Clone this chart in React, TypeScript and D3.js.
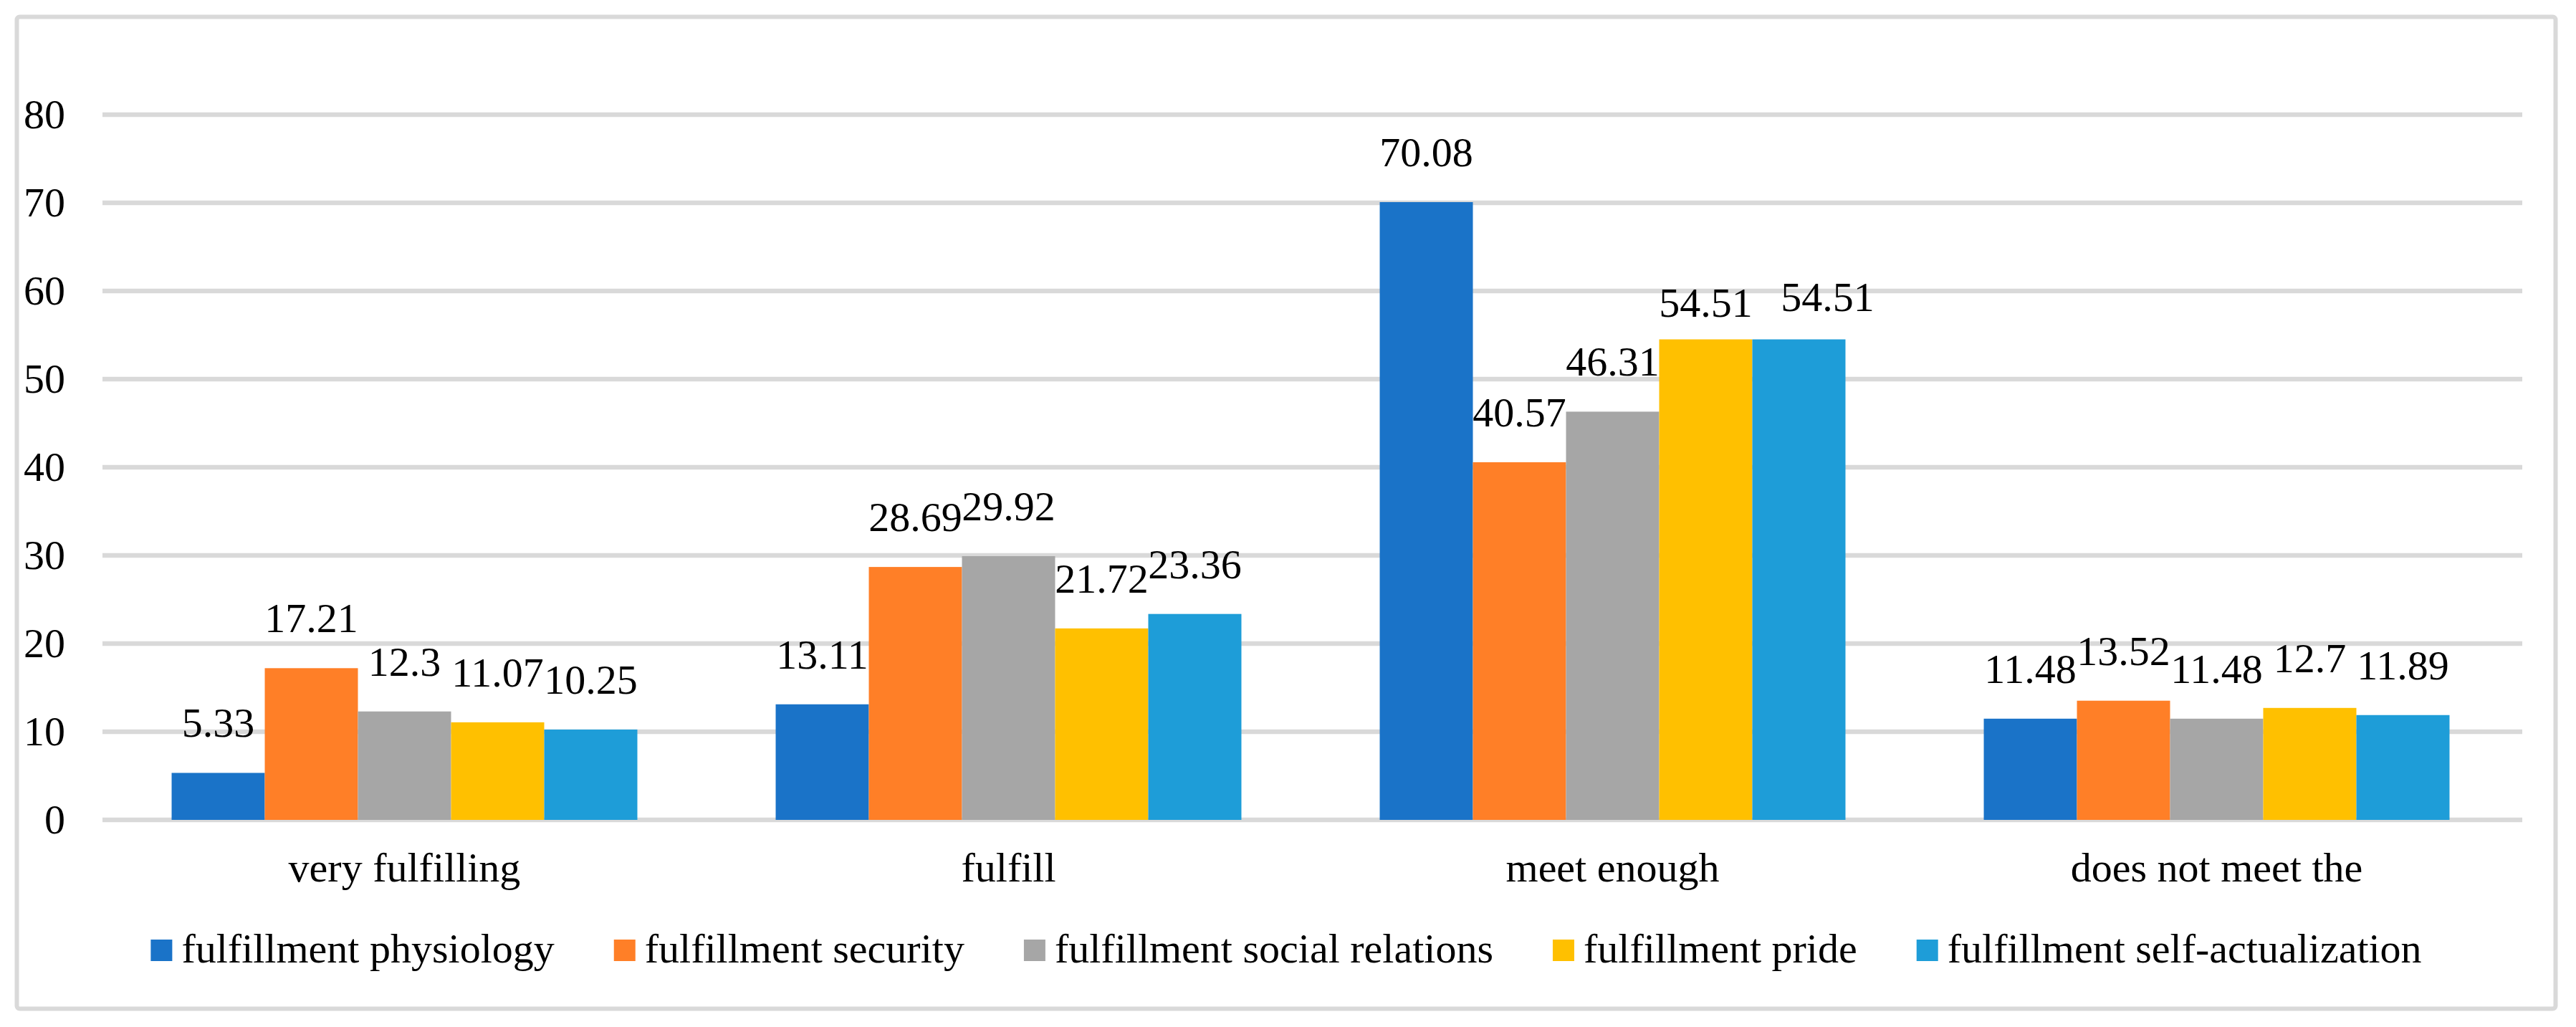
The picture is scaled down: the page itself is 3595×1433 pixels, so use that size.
import React, { useEffect, useRef } from 'react'
import * as d3 from 'd3'

const categories = ['very fulfilling', 'fulfill', 'meet enough', 'does not meet the']

const seriesNames = [
  'fulfillment physiology',
  'fulfillment security',
  'fulfillment social relations',
  'fulfillment pride',
  'fulfillment self-actualization',
]

const seriesColors = ['#1a73c8', '#ff7f27', '#a6a6a6', '#ffc000', '#1e9dd8']

// values per series, one per category
const physiology = [5.33, 13.11, 70.08, 11.48]
const security = [17.21, 28.69, 40.57, 13.52]
const socialRelations = [12.3, 29.92, 46.31, 11.48]
const pride = [11.07, 21.72, 54.51, 12.7]
const selfActualization = [10.25, 23.36, 54.51, 11.89]

const seriesValues = [physiology, security, socialRelations, pride, selfActualization]

const yTicks = [0, 10, 20, 30, 40, 50, 60, 70, 80]

const W = 3595
const H = 1433
const FONT = '"Liberation Serif", "Times New Roman", serif'

// hand-moved data labels in the original (series index - category index)
const labelNudge: Record<string, [number, number]> = {
  '3-2': [0, 18],
  '4-2': [40, 10],
}

export default function App() {
  const svgRef = useRef<SVGSVGElement>(null)

  useEffect(() => {
    if (!svgRef.current) return
    const svg = d3.select(svgRef.current)
    svg.selectAll('*').remove()

    const plot = { left: 143, right: 3515, top: 160, bottom: 1144 }
    const fontSize = 58

    // outer frame
    svg
      .append('rect')
      .attr('x', 23.5)
      .attr('y', 23.5)
      .attr('width', 3543)
      .attr('height', 1384)
      .attr('rx', 4)
      .attr('fill', '#fff')
      .attr('stroke', '#d9d9d9')
      .attr('stroke-width', 6)

    const x0 = d3
      .scaleBand<string>()
      .domain(categories)
      .range([plot.left, plot.right])
      .paddingInner(0.229)
      .paddingOuter(0.1145)

    const x1 = d3
      .scaleBand<number>()
      .domain(d3.range(seriesNames.length))
      .range([0, x0.bandwidth()])

    const y = d3.scaleLinear().domain([0, 80]).range([plot.bottom, plot.top])

    // gridlines
    svg
      .append('g')
      .selectAll('line')
      .data(yTicks)
      .join('line')
      .attr('x1', plot.left)
      .attr('x2', plot.right + 5)
      .attr('y1', (d) => y(d))
      .attr('y2', (d) => y(d))
      .attr('stroke', '#d9d9d9')
      .attr('stroke-width', 6.5)

    // y tick labels
    svg
      .append('g')
      .selectAll('text')
      .data(yTicks)
      .join('text')
      .attr('x', 91)
      .attr('y', (d) => y(d) + 19)
      .attr('text-anchor', 'end')
      .style('font-family', FONT)
      .style('font-size', `${fontSize}px`)
      .attr('fill', '#000')
      .text((d) => d)

    // bars
    seriesValues.forEach((vals, si) => {
      const g = svg.append('g')
      g.selectAll('rect')
        .data(vals)
        .join('rect')
        .attr('x', (_, ci) => (x0(categories[ci]) ?? 0) + (x1(si) ?? 0))
        .attr('y', (d) => y(d))
        .attr('width', x1.bandwidth())
        .attr('height', (d) => y(0) - y(d))
        .attr('fill', seriesColors[si])
    })

    // value labels
    seriesValues.forEach((vals, si) => {
      svg
        .append('g')
        .selectAll('text')
        .data(vals)
        .join('text')
        .attr('x', (_, ci) => {
          const n = labelNudge[`${si}-${ci}`]
          return (x0(categories[ci]) ?? 0) + (x1(si) ?? 0) + x1.bandwidth() / 2 + (n ? n[0] : 0)
        })
        .attr('y', (d, ci) => {
          const n = labelNudge[`${si}-${ci}`]
          return y(d) - 50 + (n ? n[1] : 0)
        })
        .attr('text-anchor', 'middle')
        .style('font-family', FONT)
        .style('font-size', `${fontSize}px`)
        .attr('fill', '#000')
        .text((d) => String(d))
    })

    // category labels
    svg
      .append('g')
      .selectAll('text')
      .data(categories)
      .join('text')
      .attr('x', (d) => (x0(d) ?? 0) + x0.bandwidth() / 2)
      .attr('y', 1230)
      .attr('text-anchor', 'middle')
      .style('font-family', FONT)
      .style('font-size', `${fontSize}px`)
      .attr('fill', '#000')
      .text((d) => d)

    // legend, laid out from measured text widths and centred on the frame
    const legend = svg.append('g')
    const swatch = 30
    const textGap = 13
    const itemGap = 83
    const items = seriesNames.map((name, i) => {
      const item = legend.append('g')
      item
        .append('rect')
        .attr('x', 0)
        .attr('y', -swatch / 2)
        .attr('width', swatch)
        .attr('height', swatch)
        .attr('fill', seriesColors[i])
      const t = item
        .append('text')
        .attr('x', swatch + textGap)
        .attr('y', 17)
        .style('font-family', FONT)
        .style('font-size', `${fontSize}px`)
        .attr('fill', '#000')
        .text(name)
      const w = (t.node() as SVGTextElement).getComputedTextLength()
      return { item, width: swatch + textGap + w }
    })
    const total = d3.sum(items, (d) => d.width) + itemGap * (items.length - 1)
    let cx = 1795 - total / 2
    items.forEach(({ item, width }) => {
      item.attr('transform', `translate(${cx},1326)`)
      cx += width + itemGap
    })
  }, [])

  return (
    <svg
      ref={svgRef}
      width={W}
      height={H}
      viewBox={`0 0 ${W} ${H}`}
      style={{ position: 'absolute', left: 0, top: 0, background: '#fff' }}
    />
  )
}
